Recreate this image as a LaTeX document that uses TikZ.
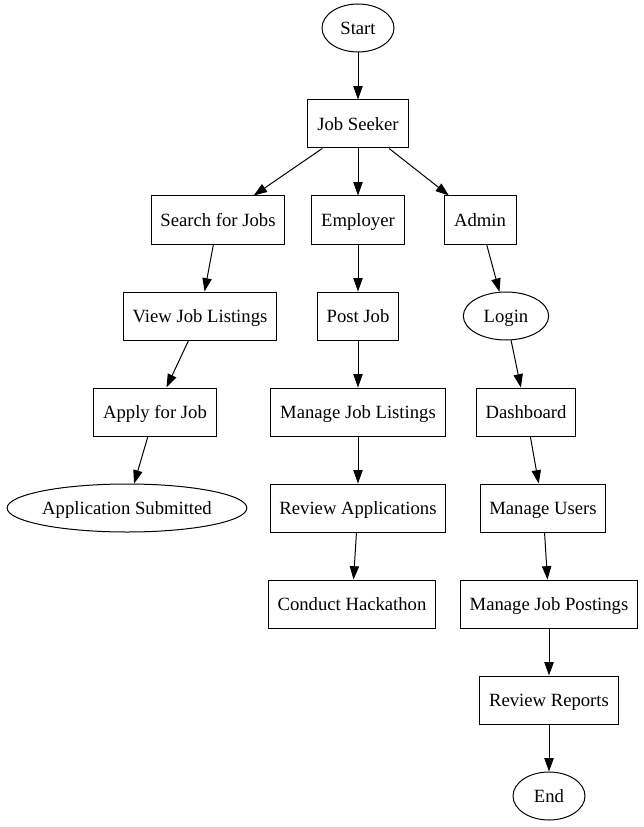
\documentclass[tikz,border=0pt]{standalone}
\usepackage{fontspec}
\setmainfont{Liberation Serif}
\usetikzlibrary{arrows.meta,shapes,positioning}
\tikzstyle{block} = [rectangle, draw, fill=white, font=\fontsize{14}{16}\selectfont,
    inner xsep=7pt, minimum width=54pt, minimum height=36pt,
    text height=11pt, text depth=1.5pt]
\tikzstyle{term} = [ellipse, draw, fill=white, font=\fontsize{14}{16}\selectfont,
    inner xsep=1pt, minimum width=54pt, minimum height=36pt,
    text height=11pt, text depth=1.5pt]

\begin{document}
\begin{tikzpicture}[x=0.75pt,y=-0.75pt,line width=0.75pt,
                    ->,>={Triangle[length=10pt,width=7pt]}]
  \useasboundingbox (0,0) rectangle (643,827);
  \node[term] (start) at (358,28) {Start};
  \node[block] (seeker) at (358,124) {Job Seeker};

  % job seeker branch
  \node[block] (search) at (218,220) {Search for Jobs};
  \node[block] (view) at (200,316) {View Job Listings};
  \node[block] (apply) at (155,412) {Apply for Job};
  \node[term, inner xsep=0pt] (submitted) at (127,508) {Application Submitted};

  % employer branch
  \node[block] (employer) at (358,220) {Employer};
  \node[block] (post) at (358,316) {Post Job};
  \node[block] (listings) at (358,412) {Manage Job Listings};
  \node[block] (review) at (358,508) {Review Applications};
  \node[block] (hackathon) at (352,604) {Conduct Hackathon};

  % admin branch
  \node[block] (admin) at (480,220) {Admin};
  \node[term, minimum width=64pt] (login) at (506,316) {Login};
  \node[block] (dashboard) at (526,412) {Dashboard};
  \node[block] (users) at (543,508) {Manage Users};
  \node[block] (postings) at (549,604) {Manage Job Postings};
  \node[block] (reports) at (549,700) {Review Reports};
  \node[term] (end) at (549,796) {End};

  \path (start) edge (seeker)
        (seeker) edge (search)
        (seeker) edge (employer)
        (seeker) edge (admin)
        (search) edge (view)
        (view) edge (apply)
        (apply) edge (submitted)
        (employer) edge (post)
        (post) edge (listings)
        (listings) edge (review)
        (review) edge (hackathon)
        (admin) edge (login)
        (login) edge (dashboard)
        (dashboard) edge (users)
        (users) edge (postings)
        (postings) edge (reports)
        (reports) edge (end);
\end{tikzpicture}
\end{document}
